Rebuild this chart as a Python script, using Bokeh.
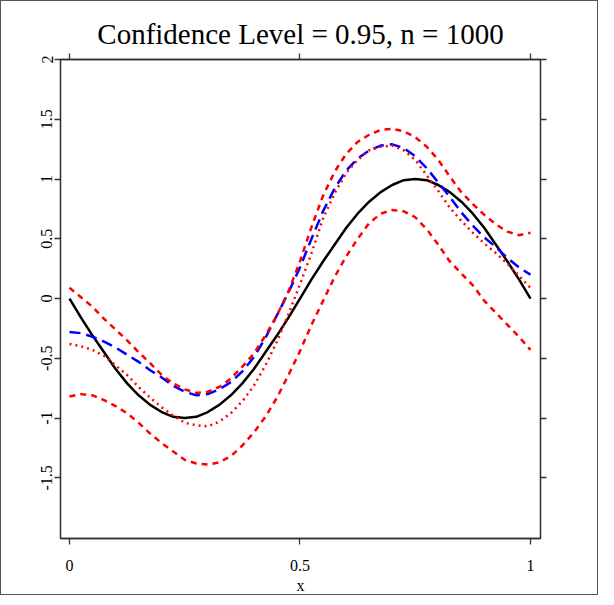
from bokeh.plotting import figure
from bokeh.models import LinearAxis, FixedTicker, Range1d, Title, CustomJSTickFormatter
from bokeh.embed import file_html
from bokeh.resources import INLINE

title_text = "Confidence Level = 0.95, n = 1000"
x_label = "x"

xs = [0.0, 0.025, 0.05, 0.075, 0.1, 0.125, 0.15, 0.175, 0.2, 0.225, 0.25,
      0.275, 0.3, 0.325, 0.35, 0.375, 0.4, 0.425, 0.45, 0.475, 0.5,
      0.525, 0.55, 0.575, 0.6, 0.625, 0.65, 0.675, 0.7, 0.725, 0.75,
      0.775, 0.8, 0.825, 0.85, 0.875, 0.9, 0.925, 0.95, 0.975, 1.0]

true_curve = [0.0, -0.16, -0.31, -0.45, -0.59, -0.71, -0.81, -0.89, -0.95, -0.99, -1.0,
              -0.99, -0.95, -0.89, -0.81, -0.71, -0.59, -0.45, -0.31, -0.16, 0.0,
              0.16, 0.31, 0.45, 0.59, 0.71, 0.81, 0.89, 0.95, 0.99, 1.0,
              0.99, 0.95, 0.89, 0.81, 0.71, 0.59, 0.45, 0.31, 0.16, 0.0]

estimate = [-0.28, -0.29, -0.32, -0.36, -0.41, -0.47, -0.53, -0.60, -0.66, -0.73, -0.78,
            -0.81, -0.80, -0.76, -0.70, -0.61, -0.49, -0.33, -0.14, 0.05, 0.26,
            0.50, 0.73, 0.92, 1.07, 1.17, 1.24, 1.28, 1.29, 1.26, 1.19,
            1.09, 0.97, 0.85, 0.72, 0.61, 0.51, 0.43, 0.34, 0.26, 0.20]

upper = [0.09, 0.01, -0.07, -0.17, -0.26, -0.35, -0.45, -0.54, -0.64, -0.71, -0.76,
         -0.79, -0.78, -0.74, -0.67, -0.57, -0.46, -0.31, -0.14, 0.06, 0.31,
         0.60, 0.86, 1.06, 1.21, 1.31, 1.37, 1.41, 1.42, 1.40, 1.35,
         1.27, 1.16, 1.02, 0.89, 0.79, 0.70, 0.62, 0.56, 0.53, 0.55]

lower = [-0.82, -0.80, -0.81, -0.85, -0.90, -0.96, -1.04, -1.13, -1.21, -1.28, -1.35,
         -1.38, -1.39, -1.37, -1.32, -1.23, -1.12, -0.99, -0.83, -0.64, -0.44,
         -0.22, -0.02, 0.18, 0.35, 0.50, 0.63, 0.71, 0.74, 0.73, 0.68,
         0.58, 0.45, 0.31, 0.21, 0.11, -0.02, -0.12, -0.22, -0.32, -0.43]

dotted_est = [-0.38, -0.40, -0.43, -0.48, -0.56, -0.64, -0.74, -0.83, -0.91, -0.98, -1.04,
              -1.06, -1.07, -1.03, -0.96, -0.86, -0.73, -0.56, -0.36, -0.13, 0.12,
              0.38, 0.67, 0.88, 1.05, 1.16, 1.24, 1.27, 1.28, 1.24, 1.16,
              1.03, 0.90, 0.76, 0.65, 0.55, 0.46, 0.38, 0.29, 0.19, 0.09]

x_ticks = [0, 0.5, 1]
x_tick_labels = ["0", "0.5", "1"]
y_ticks = [-1.5, -1, -0.5, 0, 0.5, 1, 1.5, 2]
y_tick_labels = ["-1.5", "-1", "-0.5", "0", "0.5", "1", "1.5", "2"]

SERIF = "Liberation Serif"
AX = "#333333"

p = figure(width=598, height=595,
           x_range=Range1d(-0.0195, 1.0217), y_range=Range1d(-2.008, 2.0),
           output_backend="svg", toolbar_location=None,
           x_axis_location=None, y_axis_location=None,
           min_border_left=59, min_border_right=59,
           min_border_top=58, min_border_bottom=58)
p.styles = {"border": "1px solid #555555"}
p.xgrid.visible = False
p.ygrid.visible = False
p.outline_line_color = AX
p.outline_line_width = 1.3
p.background_fill_color = "white"
p.border_fill_color = "white"


def fmt(vals, labs):
    return CustomJSTickFormatter(args=dict(vals=vals, labs=labs),
                                 code="const i = vals.indexOf(tick); return i >= 0 ? labs[i] : '';")


def style(ax, show_labels):
    ax.axis_line_color = AX
    ax.axis_line_width = 1.3
    ax.major_tick_line_color = AX
    ax.major_tick_line_width = 1.3
    ax.major_tick_out = 6
    ax.major_tick_in = 0
    ax.minor_tick_line_color = None
    ax.major_label_text_font = SERIF
    ax.major_label_text_color = "black"
    if show_labels:
        ax.major_label_text_font_size = "16px"
    else:
        ax.major_label_text_font_size = "0px"


xb = LinearAxis(ticker=FixedTicker(ticks=x_ticks), formatter=fmt(x_ticks, x_tick_labels),
                axis_label=x_label)
style(xb, True)
xb.major_label_standoff = 15
xb.axis_label_text_font = SERIF
xb.axis_label_text_font_size = "16px"
xb.axis_label_text_font_style = "normal"
xb.axis_label_text_color = "black"
xb.axis_label_standoff = 3
p.add_layout(xb, "below")

yl = LinearAxis(ticker=FixedTicker(ticks=y_ticks), formatter=fmt(y_ticks, y_tick_labels))
style(yl, True)
yl.major_label_orientation = "vertical"
yl.major_label_standoff = 2
p.add_layout(yl, "left")

xt = LinearAxis(ticker=FixedTicker(ticks=x_ticks), formatter=fmt(x_ticks, ["", "", ""]))
style(xt, False)
xt.major_label_standoff = 0
p.add_layout(xt, "above")

yr = LinearAxis(ticker=FixedTicker(ticks=y_ticks), formatter=fmt(y_ticks, [""] * len(y_ticks)))
style(yr, False)
yr.major_label_standoff = 0
p.add_layout(yr, "right")

p.add_layout(Title(text=title_text, align="center", text_font=SERIF,
                   text_font_size="29px", text_font_style="normal",
                   text_color="black", standoff=8), "above")

p.line(xs, true_curve, line_color="black", line_width=2.5)
p.line(xs, estimate, line_color="#0000FF", line_width=2.5, line_dash="11 6")
p.line(xs, upper, line_color="#FF0000", line_width=2.5, line_dash="6 5")
p.line(xs, lower, line_color="#FF0000", line_width=2.5, line_dash="6 5")
p.line(xs, dotted_est, line_color="#FF0000", line_width=2.5, line_dash="2 4")

open("out.html", "w").write(file_html(p, INLINE))
